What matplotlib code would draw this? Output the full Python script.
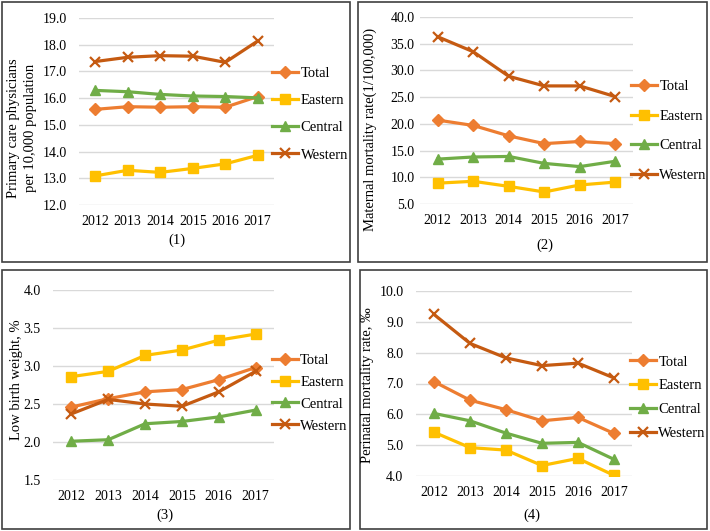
import matplotlib
matplotlib.use("Agg")
import matplotlib.pyplot as plt
from matplotlib.patches import Rectangle

# --- données ---
years = ["2012", "2013", "2014", "2015", "2016", "2017"]
series_names = ["Total", "Eastern", "Central", "Western"]

# (1) médecins de premier recours pour 10 000 habitants
phys_total = [15.58, 15.68, 15.66, 15.68, 15.66, 16.06]
phys_eastern = [13.09, 13.30, 13.22, 13.37, 13.54, 13.86]
phys_central = [16.29, 16.24, 16.14, 16.08, 16.06, 16.01]
phys_western = [17.37, 17.53, 17.59, 17.57, 17.34, 18.14]

# (2) mortalité maternelle (1/100 000)
mmr_total = [20.7, 19.7, 17.75, 16.3, 16.7, 16.3]
mmr_eastern = [8.9, 9.25, 8.3, 7.25, 8.56, 9.1]
mmr_central = [13.4, 13.8, 13.9, 12.6, 12.0, 13.0]
mmr_western = [36.3, 33.5, 28.9, 27.1, 27.1, 25.1]

# (3) faible poids de naissance, %
lbw_total = [2.46, 2.57, 2.66, 2.69, 2.82, 2.98]
lbw_eastern = [2.86, 2.93, 3.14, 3.21, 3.34, 3.42]
lbw_central = [2.01, 2.03, 2.24, 2.27, 2.33, 2.42]
lbw_western = [2.37, 2.56, 2.50, 2.47, 2.66, 2.93]

# (4) mortalité périnatale, ‰
pmr_total = [7.06, 6.46, 6.15, 5.79, 5.90, 5.38]
pmr_eastern = [5.42, 4.92, 4.84, 4.34, 4.57, 4.02]
pmr_central = [6.03, 5.79, 5.39, 5.06, 5.09, 4.54]
pmr_western = [9.24, 8.30, 7.83, 7.58, 7.66, 7.18]

W, H = 710, 531
FONT = ["Liberation Serif", "DejaVu Serif"]
plt.rcParams["font.family"] = FONT
plt.rcParams["font.size"] = 10

styles = {
    "Total": dict(color="#ED7D31", marker="D", markersize=6),
    "Eastern": dict(color="#FFC000", marker="s", markersize=7.5),
    "Central": dict(color="#70AD47", marker="^", markersize=7.5),
    "Western": dict(color="#C55A11", marker="x", markersize=7, markeredgewidth=1.6),
}

fig = plt.figure(figsize=(W / 100, H / 100), dpi=100)


def rect(x0, x1, ytop, ybot):
    return [x0 / W, 1 - ybot / H, (x1 - x0) / W, (ybot - ytop) / H]


def fx(x):
    return x / W


def fy(y):
    return 1 - y / H


panels = [
    dict(data=[phys_total, phys_eastern, phys_central, phys_western],
         box=(2, 350, 2, 262), ax=(79, 274, 18, 205), ylim=(12, 19), step=1.0, pad=9,
         ylabel="Primary care physicians\nper 10,000 population", ylpos=(22, 128),
         cap="(1)", cappos=(177, 240), legy=0.485, lsp=0.95),
    dict(data=[mmr_total, mmr_eastern, mmr_central, mmr_western],
         box=(358, 707, 2, 262), ax=(420, 633, 17, 204), ylim=(5, 40), step=5.0, pad=4,
         ylabel="Maternal mortality rate(1/100,000)", ylpos=(370, 129),
         cap="(2)", cappos=(545, 245), legy=0.39, lsp=1.12),
    dict(data=[lbw_total, lbw_eastern, lbw_central, lbw_western],
         box=(2, 350, 270, 529), ax=(53, 274, 290, 480), ylim=(1.5, 4.0), step=0.5, pad=9,
         ylabel="Low birth weight, %", ylpos=(17, 380),
         cap="(3)", cappos=(165, 515), legy=0.458, lsp=0.6),
    dict(data=[pmr_total, pmr_eastern, pmr_central, pmr_western],
         box=(360, 707, 270, 529), ax=(416, 632, 291, 476), ylim=(4, 10), step=1.0, pad=9,
         ylabel="Perinatal mortality rate, ‰", ylpos=(368, 385),
         cap="(4)", cappos=(532, 515), legy=0.424, lsp=0.72),
]

for p in panels:
    # --- cadre du panneau ---
    bx0, bx1, by0, by1 = p["box"]
    fig.patches.append(Rectangle((fx(bx0), fy(by1)), (bx1 - bx0) / W, (by1 - by0) / H,
                                 transform=fig.transFigure, fill=False,
                                 edgecolor="#404040", linewidth=1.2))

    ax = fig.add_axes(rect(*p["ax"]))
    xs = list(range(len(years)))
    for name, vals in zip(series_names, p["data"]):
        ax.plot(xs, vals, label=name, linewidth=2.3, **styles[name])

    lo, hi = p["ylim"]
    ax.set_ylim(lo, hi)
    ax.set_xlim(-0.5, len(years) - 0.5)
    n = int(round((hi - lo) / p["step"]))
    ticks = [lo + i * p["step"] for i in range(n + 1)]
    ax.set_yticks(ticks)
    ax.set_yticklabels([f"{t:.1f}" for t in ticks])
    ax.set_xticks(xs)
    ax.set_xticklabels(years)
    ax.tick_params(axis="both", length=0, labelsize=10)
    ax.tick_params(axis="y", pad=p["pad"])
    ax.tick_params(axis="x", pad=7)
    ax.grid(axis="y", color="#D9D9D9", linewidth=1)
    ax.set_axisbelow(True)
    for s in ax.spines.values():
        s.set_visible(False)

    ax.legend(loc="center left", bbox_to_anchor=(0.99, p["legy"]), frameon=False,
              borderpad=0, borderaxespad=0, handlelength=1.8, handletextpad=0.15,
              labelspacing=p["lsp"], fontsize=10.5)

    fig.text(fx(p["ylpos"][0]), fy(p["ylpos"][1]), p["ylabel"], rotation=90,
             ha="center", va="center", fontsize=10.5, multialignment="center",
             linespacing=1.45)
    fig.text(fx(p["cappos"][0]), fy(p["cappos"][1]), p["cap"],
             ha="center", va="center", fontsize=10.5)

fig.savefig("out.png", dpi=100)
